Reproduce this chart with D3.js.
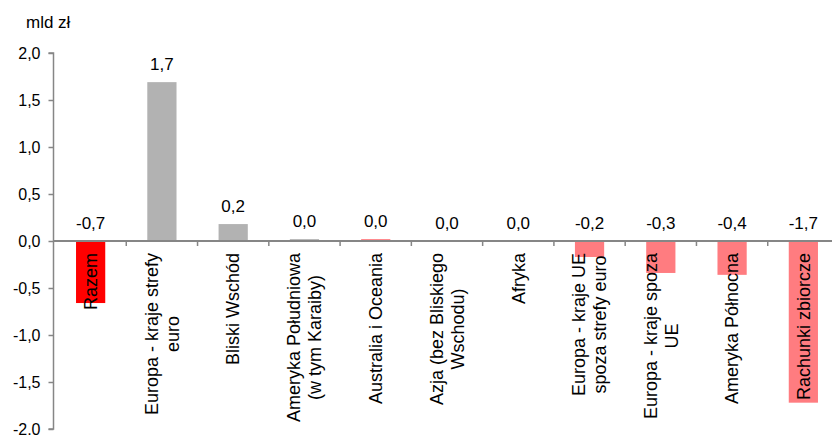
<!DOCTYPE html>
<html>
<head>
<meta charset="utf-8">
<script src="https://cdn.jsdelivr.net/npm/d3@7"></script>
<style>
  html, body { margin: 0; padding: 0; background: #fff; }
  svg { display: block; font-family: "Liberation Sans", Arial, sans-serif; }
</style>
</head>
<body>
<svg id="chart" width="832" height="435"></svg>
<script>
// Category names, split into the lines used under the axis
const categories = [
  "Razem",
  "Europa - kraje strefy euro",
  "Bliski Wschód",
  "Ameryka Południowa (w tym Karaiby)",
  "Australia i Oceania",
  "Azja (bez Bliskiego Wschodu)",
  "Afryka",
  "Europa - kraje UE spoza strefy euro",
  "Europa - kraje spoza UE",
  "Ameryka Północna",
  "Rachunki zbiorcze"
];
const categoryLines = [
  ["Razem"],
  ["Europa - kraje strefy", "euro"],
  ["Bliski Wschód"],
  ["Ameryka Południowa", "(w tym Karaiby)"],
  ["Australia i Oceania"],
  ["Azja (bez Bliskiego", "Wschodu)"],
  ["Afryka"],
  ["Europa - kraje UE", "spoza strefy euro"],
  ["Europa - kraje spoza", "UE"],
  ["Ameryka Północna"],
  ["Rachunki zbiorcze"]
];
// Values in mld zł
const values = [-0.66, 1.69, 0.18, 0.02, 0.02, 0.0, 0.0, -0.17, -0.34, -0.36, -1.72];
// Bar groups: total, gray, pink
const groups = ["total", "gray", "gray", "gray", "pink", "pink", "pink", "pink", "pink", "pink", "pink"];
const yTicks = [-2, -1.5, -1, -0.5, 0, 0.5, 1, 1.5, 2];
const unitLabel = "mld zł";

const svg = d3.select("#chart");
const axisColor = "#868686";
const fmt = v => d3.format(".1f")(v).replace(".", ",").replace("−", "-");

const x = d3.scaleBand().domain(categories).range([55, 839]).paddingInner(0.59).paddingOuter(0.295);
const xStep = d3.scaleBand().domain(categories).range([55, 839]);
const y = d3.scaleLinear().domain([-2, 2]).range([429, 53]);
const color = d3.scaleOrdinal().domain(["total", "gray", "pink"]).range(["#ff0000", "#b2b2b2", "#ff7c80"]);

const data = categories.map((c, i) => ({ c, v: values[i], g: groups[i], lines: categoryLines[i] }));

// Bars
svg.append("g").selectAll("rect").data(data).join("rect")
  .attr("x", d => x(d.c))
  .attr("width", x.bandwidth())
  .attr("y", d => y(Math.max(0, d.v)))
  .attr("height", d => Math.abs(y(d.v) - y(0)))
  .attr("fill", d => color(d.g));

// Y axis
const yAxis = d3.axisLeft(y).tickValues(yTicks).tickSize(5).tickPadding(8)
  .tickFormat(v => fmt(v));
const gy = svg.append("g").attr("transform", "translate(53.5,0)").call(yAxis);
gy.select(".domain").attr("stroke", axisColor).attr("stroke-width", 1.5)
  .attr("d", `M-5,${y(2)}H0V${y(-2)}H-5`);
gy.selectAll(".tick line").attr("stroke", axisColor).attr("stroke-width", 1.5);
gy.selectAll(".tick text").attr("fill", "#000").style("font-size", "16px")
  .style("font-family", "'Liberation Sans', Arial, sans-serif");

// X axis along zero
const gx = svg.append("g").attr("transform", `translate(0,${y(0)})`);
gx.append("line").attr("x1", 53).attr("x2", 832).attr("stroke", axisColor).attr("stroke-width", 2);
gx.selectAll("line.tick").data(categories.slice(1)).join("line")
  .attr("class", "tick")
  .attr("x1", d => xStep(d)).attr("x2", d => xStep(d))
  .attr("y1", 0).attr("y2", 5)
  .attr("stroke", axisColor).attr("stroke-width", 1.5);

// Value labels
svg.append("g").selectAll("text").data(data).join("text")
  .attr("x", d => x(d.c) + x.bandwidth() / 2)
  .attr("y", d => y(Math.max(0, d.v)) - 12)
  .attr("text-anchor", "middle")
  .style("font-size", "17px")
  .text(d => fmt(d.v));

// Rotated category labels
const lh = 21;
const cat = svg.append("g").selectAll("g").data(data).join("g")
  .attr("transform", d => `translate(${x(d.c) + x.bandwidth() / 2},253) rotate(-90)`);
cat.each(function (d) {
  const g = d3.select(this);
  const texts = d.lines.map((t, i) => g.append("text")
    .style("font-size", "18px")
    .attr("text-anchor", "middle")
    .attr("dy", "0.35em")
    .attr("y", (i - (d.lines.length - 1) / 2) * lh)
    .text(t));
  const w = d3.max(texts, t => t.node().getComputedTextLength());
  texts.forEach(t => t.attr("x", -w / 2));
});

// Unit label
svg.append("text").attr("x", 26).attr("y", 28).style("font-size", "17px").text(unitLabel);
</script>
</body>
</html>
